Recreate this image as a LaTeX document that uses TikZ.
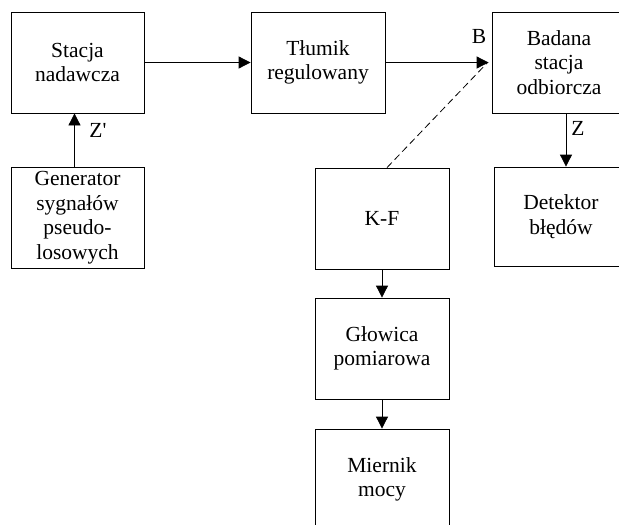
\documentclass[tikz,border=0pt]{standalone}
\usepackage{fontspec}
\setmainfont{Liberation Serif}
\usetikzlibrary{arrows.meta,calc}
\begin{document}
\begin{tikzpicture}[x=1pt,y=-1pt,
  blk/.style={draw,line width=0.8pt,minimum width=134pt,minimum height=101pt,inner sep=0pt,align=center,font=\fontsize{21.5}{24.5}\selectfont},
  arr/.style={line width=0.8pt,-{Triangle[length=12pt,width=12pt]}},
  lbl/.style={font=\fontsize{21.5}{24.5}\selectfont,inner sep=0pt}]
\useasboundingbox (0,0) rectangle (619,525);
\clip (0,0) rectangle (619,525);
\node[blk,minimum width=133pt] (sn) at (77.5,62.5) {Stacja\\nadawcza};
\node[blk] (tl) at (318,62.5) {Tłumik\\regulowany};
\node[blk] (bs) at (559,62.5) {Badana\\stacja\\odbiorcza};
\node[blk,minimum width=133pt] (gen) at (77.5,217.5) {Generator\\sygnałów\\pseudo-\\losowych};
\node[blk] (kf) at (382,218.5) {K-F};
\node[blk,minimum height=99pt] (det) at (561,216.5) {Detektor\\błędów};
\node[blk] (glo) at (382,348.5) {Głowica\\pomiarowa};
\node[blk] (mie) at (382,479.5) {Miernik\\mocy};
\coordinate (za) at ($(bs.south)+(7,0)$);
\coordinate (zb) at ($(gen.north)+(-3,0)$);
\coordinate (ka) at ($(kf.north)+(5,0)$);
\coordinate (kb) at ($(bs.west)+(-4,0)$);
\draw[arr] (sn) -- (tl);
\draw[arr,shorten >=3pt] (tl) -- (bs);
\draw[line width=0.8pt,dash pattern=on 7pt off 4pt] (ka) -- (kb);
\draw[arr] (za) -- (za |- det.north);
\draw[arr] (zb) -- (zb |- sn.south);
\draw[arr] (kf) -- (glo);
\draw[arr] (glo) -- (mie);
\node[lbl] (lb) at (479,36) {B};
\node[lbl] (lz1) at (98,130) {Z\textquotesingle};
\node[lbl] (lz) at (578,128) {Z};
\end{tikzpicture}
\end{document}
